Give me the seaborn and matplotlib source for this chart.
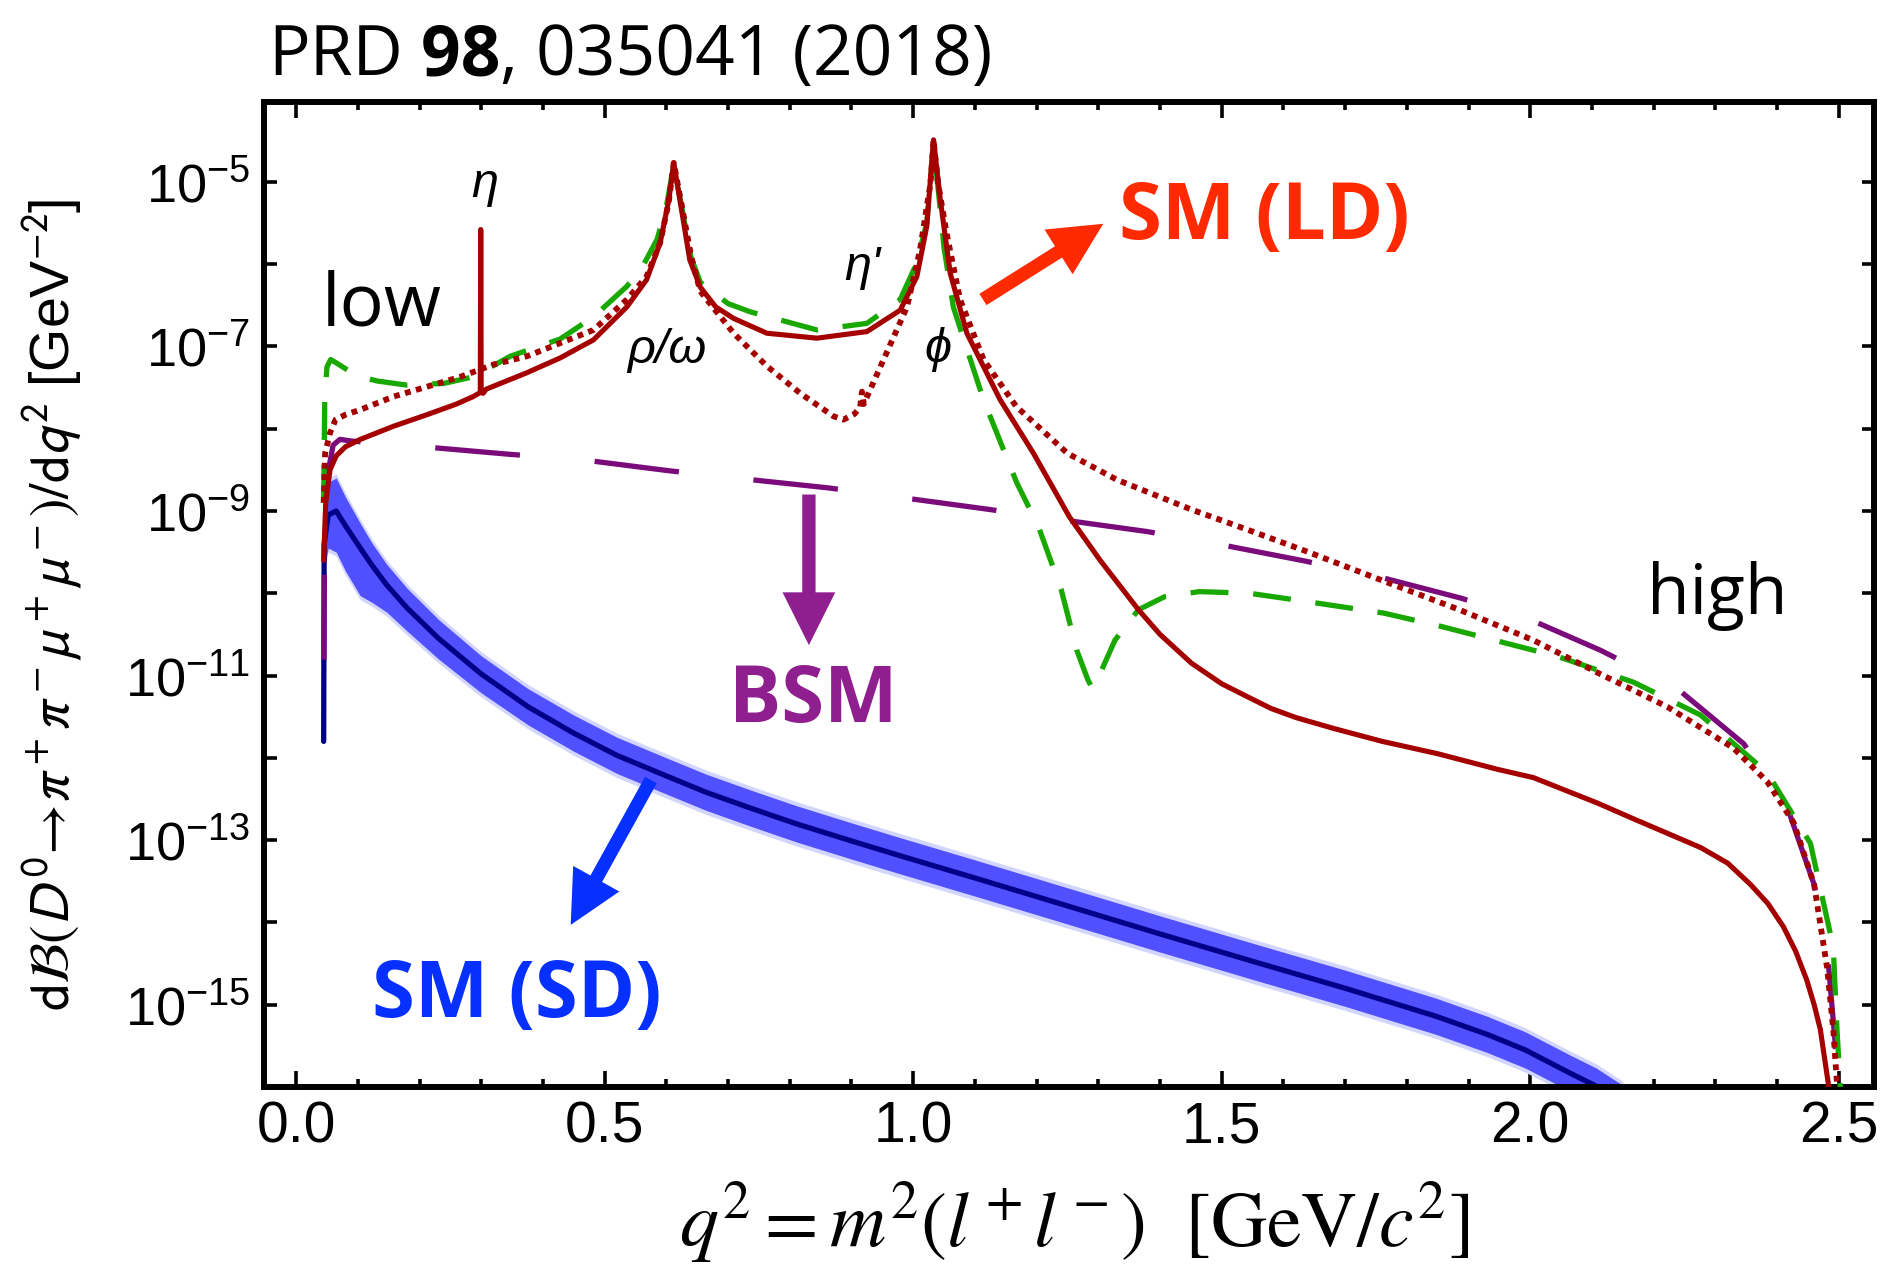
import numpy as np
import pandas as pd
import matplotlib
matplotlib.use("Agg")
import matplotlib.pyplot as plt
from matplotlib.ticker import FixedLocator, NullFormatter
import seaborn as sns

# q^2 in GeV^2; rates given as log10 of dB/dq^2 [GeV^-2]

# SM long-distance, solid
ld_solid_q2 = [0.0447, 0.048, 0.055, 0.065, 0.080, 0.104, 0.158, 0.212, 0.260, 0.287,
               0.2985, 0.2992, 0.2999, 0.303, 0.308, 0.374, 0.428, 0.482, 0.536, 0.568,
               0.590, 0.604, 0.612, 0.622, 0.638, 0.655, 0.680, 0.709, 0.763, 0.844,
               0.925, 0.979, 1.006, 1.022, 1.033, 1.044, 1.060, 1.087, 1.141, 1.195,
               1.253, 1.303, 1.365, 1.400, 1.451, 1.500, 1.545, 1.580, 1.620, 1.680,
               1.760, 1.850, 1.947, 2.005, 2.109, 2.167, 2.276, 2.320, 2.357, 2.385,
               2.410, 2.430, 2.448, 2.460, 2.470, 2.483, 2.490]
ld_solid_lg = [-9.6, -8.9, -8.5, -8.33, -8.22, -8.13, -7.97, -7.83, -7.70, -7.61,
               -7.56, -5.58, -7.56, -7.57, -7.52, -7.32, -7.14, -6.92, -6.52, -6.19,
               -5.74, -5.22, -4.77, -5.22, -5.95, -6.28, -6.52, -6.66, -6.84, -6.90,
               -6.82, -6.56, -6.15, -5.54, -4.49, -5.22, -6.11, -6.84, -7.65, -8.30,
               -9.07, -9.60, -10.20, -10.50, -10.85, -11.10, -11.27, -11.40, -11.51, -11.64,
               -11.80, -11.95, -12.14, -12.24, -12.55, -12.74, -13.09, -13.28, -13.54, -13.77,
               -14.05, -14.35, -14.70, -15.00, -15.30, -15.96, -16.5]

# SM long-distance, dotted
ld_dotted_q2 = [0.0447, 0.047, 0.055, 0.064, 0.080, 0.104, 0.158, 0.212, 0.266, 0.320,
                0.374, 0.428, 0.482, 0.536, 0.568, 0.590, 0.604, 0.612, 0.624, 0.640,
                0.655, 0.709, 0.763, 0.817, 0.871, 0.887, 0.905, 0.914, 0.917, 0.920,
                0.952, 0.990, 1.011, 1.028, 1.033, 1.040, 1.054, 1.076, 1.114, 1.167,
                1.250, 1.330, 1.450, 1.550, 1.637, 1.762, 1.885, 2.005, 2.113, 2.222,
                2.329, 2.384, 2.427, 2.460, 2.481, 2.491, 2.497, 2.502]
ld_dotted_lg = [-8.9, -8.30, -8.05, -7.89, -7.83, -7.77, -7.61, -7.49, -7.37, -7.22,
                -7.12, -6.96, -6.80, -6.43, -6.15, -5.74, -5.24, -4.77, -5.25, -5.90,
                -6.33, -6.84, -7.24, -7.57, -7.85, -7.89, -7.82, -7.74, -7.55, -7.70,
                -7.16, -6.52, -5.83, -5.02, -4.49, -5.00, -5.62, -6.43, -7.16, -7.73,
                -8.30, -8.62, -8.98, -9.25, -9.49, -9.85, -10.20, -10.57, -10.98, -11.38,
                -11.88, -12.29, -12.79, -13.54, -14.55, -15.30, -15.96, -16.5]

# SM long-distance, green dashed
ld_green_q2 = [0.0447, 0.0465, 0.050, 0.056, 0.065, 0.082, 0.100, 0.131, 0.179, 0.239,
               0.287, 0.347, 0.428, 0.482, 0.536, 0.560, 0.585, 0.600, 0.612, 0.624,
               0.640, 0.655, 0.700, 0.736, 0.844, 0.925, 0.979, 1.005, 1.022, 1.033,
               1.042, 1.050, 1.065, 1.087, 1.114, 1.168, 1.203, 1.240, 1.265, 1.283,
               1.290, 1.298, 1.308, 1.327, 1.365, 1.408, 1.464, 1.545, 1.637, 1.762,
               1.854, 1.947, 2.045, 2.167, 2.276, 2.384, 2.454, 2.491, 2.497, 2.502, 2.506]
ld_green_lg = [-8.9, -7.6, -7.25, -7.16, -7.20, -7.28, -7.36, -7.42, -7.47, -7.45,
               -7.37, -7.12, -6.91, -6.64, -6.27, -6.05, -5.70, -5.30, -4.80, -5.27,
               -5.92, -6.22, -6.48, -6.58, -6.80, -6.72, -6.43, -6.00, -5.50, -4.55,
               -5.20, -5.80, -6.52, -7.03, -7.65, -8.66, -9.19, -9.96, -10.69, -11.05,
               -11.15, -11.08, -10.89, -10.57, -10.20, -10.04, -9.98, -10.00, -10.10, -10.24,
               -10.40, -10.58, -10.77, -11.08, -11.48, -12.18, -13.04, -14.30, -15.30, -15.96, -16.5]

# BSM, long dashed
bsm_q2 = [0.0447, 0.046, 0.050, 0.060, 0.071, 0.090, 0.206, 0.344, 0.466, 0.603,
          0.725, 0.863, 0.984, 1.122, 1.244, 1.379, 1.499, 1.636, 1.755, 1.888,
          2.003, 2.113, 2.240, 2.346, 2.416, 2.460, 2.483, 2.494, 2.500]
bsm_lg = [-11.5, -9.5, -8.6, -8.2, -8.13, -8.15, -8.22, -8.31, -8.38, -8.51,
          -8.61, -8.72, -8.84, -8.98, -9.11, -9.25, -9.41, -9.61, -9.80, -10.06,
          -10.33, -10.69, -11.17, -11.83, -12.59, -13.54, -14.50, -15.46, -16.5]

# SM short-distance: central value and band (decades above / below)
sd_q2 = [0.0447, 0.0455, 0.052, 0.065, 0.080, 0.104, 0.123, 0.147, 0.180, 0.231,
         0.300, 0.376, 0.450, 0.520, 0.600, 0.665, 0.740, 0.810, 0.900, 0.979,
         1.100, 1.268, 1.400, 1.558, 1.700, 1.847, 1.930, 1.992, 2.064, 2.107, 2.150]
sd_lg = [-11.8, -9.4, -9.05, -9.00, -9.18, -9.45, -9.66, -9.90, -10.18, -10.55,
         -10.98, -11.38, -11.70, -11.97, -12.22, -12.42, -12.62, -12.80, -13.01, -13.19,
         -13.46, -13.84, -14.14, -14.49, -14.80, -15.14, -15.36, -15.55, -15.83, -15.99, -16.2]
sd_up = [0.0, 0.30, 0.40, 0.40, 0.35, 0.30, 0.27, 0.25, 0.24, 0.23,
         0.22, 0.22, 0.22, 0.22, 0.22, 0.22, 0.22, 0.22, 0.22, 0.22,
         0.22, 0.22, 0.22, 0.22, 0.22, 0.22, 0.22, 0.22, 0.22, 0.22, 0.22]
sd_dn = [0.0, 0.30, 0.40, 0.50, 0.55, 0.58, 0.45, 0.33, 0.28, 0.25,
         0.23, 0.22, 0.22, 0.22, 0.22, 0.22, 0.22, 0.22, 0.22, 0.22,
         0.22, 0.22, 0.22, 0.22, 0.22, 0.22, 0.22, 0.22, 0.22, 0.22, 0.22]

x_major = [0.0, 0.5, 1.0, 1.5, 2.0, 2.5]
x_major_labels = ["0.0", "0.5", "1.0", "1.5", "2.0", "2.5"]
y_major_exp = [-15, -13, -11, -9, -7, -5]
y_minor_exp = [-16, -14, -12, -10, -8, -6, -4]

sns.set_theme(style="ticks")
plt.rcParams["font.family"] = ["Liberation Sans", "DejaVu Sans"]
plt.rcParams["mathtext.fontset"] = "custom"
plt.rcParams["mathtext.rm"] = "Liberation Sans"
plt.rcParams["mathtext.it"] = "Liberation Sans:italic"
plt.rcParams["mathtext.bf"] = "Liberation Sans:bold"

W, H = 1880, 1269
fig = plt.figure(figsize=(W / 100, H / 100), dpi=100)
fig.patch.set_facecolor("white")
ax = fig.add_axes([264 / W, 1 - 1087 / H, (1874 - 264) / W, (1087 - 102) / H])
ax.set_facecolor("white")
ax.set_yscale("log")


def curve(q2, lg, **kw):
    df = pd.DataFrame({"q2": q2, "rate": np.power(10.0, np.asarray(lg, dtype=float))})
    sns.lineplot(data=df, x="q2", y="rate", ax=ax, estimator=None, sort=False,
                 legend=False, **kw)


def at(q2, lg):
    return q2, 10.0 ** lg


# short-distance band with a soft edge
c = np.asarray(sd_lg)
up = np.asarray(sd_up)
dn = np.asarray(sd_dn)
ax.fill_between(sd_q2, 10 ** (c - dn - 0.05), 10 ** (c + up + 0.05), color="#d2d5ff",
                lw=0, zorder=1)
ax.fill_between(sd_q2, 10 ** (c - dn), 10 ** (c + up), color="#5050ff", lw=0, zorder=1.5)
curve(sd_q2, sd_lg, color="#000088", linewidth=3.8, zorder=2)

curve(bsm_q2, bsm_lg, color="#7b0a7b", linewidth=3.8,
      linestyle=(19.5, (16.1, 14.2)), zorder=3)
curve(ld_green_q2, ld_green_lg, color="#19a800", linewidth=3.8,
      linestyle=(0, (7.2, 4.7)), zorder=4)
curve(ld_dotted_q2, ld_dotted_lg, color="#a50000", linewidth=4.2,
      linestyle=(0, (1.0, 0.95)), zorder=5)
curve(ld_solid_q2, ld_solid_lg, color="#a50000", linewidth=3.7, zorder=6)

ax.set_xlim(-0.052, 2.557)
ax.set_ylim(10 ** -16.0, 10 ** -4.03)

ax.set_xticks(x_major, labels=x_major_labels)
ax.xaxis.set_minor_locator(FixedLocator([k / 10 for k in range(1, 26) if k % 5]))
ax.set_yticks([10.0 ** e for e in y_major_exp],
              labels=[r"$\mathregular{10^{%d}}$" % e for e in y_major_exp])
ax.yaxis.set_minor_locator(FixedLocator([10.0 ** e for e in y_minor_exp]))
ax.yaxis.set_minor_formatter(NullFormatter())

ax.tick_params(axis="both", which="both", direction="in", top=True, right=True,
               width=2.6, color="black", labelcolor="black")
ax.tick_params(axis="x", which="major", length=11.5, labelsize=41, pad=10)
ax.tick_params(axis="x", which="minor", length=6)
ax.tick_params(axis="y", which="both", length=9)
ax.tick_params(axis="y", which="major", labelsize=39, pad=10)
for s in ax.spines.values():
    s.set_linewidth(4.3)
    s.set_color("black")

ax.set_xlabel(r"$q^2 = m^2(l^+l^-)\ \ [\mathrm{GeV}/c^2]$", fontsize=56,
              math_fontfamily="stix", va="baseline", color="black")
ax.xaxis.set_label_coords(0.503, -0.162)
ax.set_ylabel(r"$\mathrm{d}\mathcal{B}(D^0\!\rightarrow\!\pi^+\pi^-\mu^+\mu^-)/\mathrm{d}q^2$"
              r" [GeV$^{-2}$]", fontsize=40, math_fontfamily="stixsans", color="black")
ax.yaxis.set_label_coords(-0.112, 0.489)

# resonance labels
greek = dict(fontsize=35, fontstyle="italic", family=["Liberation Sans", "DejaVu Sans"],
             color="black", ha="center")
ax.text(*at(0.305, -5.18), "η", va="baseline", **greek)
ax.text(*at(0.601, -7.20), "ρ/ω", va="baseline", **greek)
ax.text(*at(0.917, -6.19), "η'", va="baseline", **greek)
ax.text(*at(1.040, -7.04), "ϕ", va="center", **greek)

ax.text(*at(0.0416, -6.74), "low", fontsize=53, family="Open Sans", va="baseline",
        ha="left", color="black")
ax.text(*at(2.189, -10.25), "high", fontsize=50, family="Open Sans", va="baseline",
        ha="left", color="black")

bold = dict(family="Open Sans", fontweight="bold", va="baseline", ha="left", fontsize=56)
ax.text(*at(1.333, -5.70), "SM (LD)", color="#ff2a00", **bold)
ax.text(*at(0.701, -11.56), "BSM", color="#8f1f8f", **bold)
ax.text(*at(0.1225, -15.15), "SM (SD)", color="#0530ff", **bold)


def arrow(tail, tip, color):
    ax.annotate("", xy=at(*tip), xytext=at(*tail),
                arrowprops=dict(arrowstyle="simple,head_length=0.95,head_width=0.95,"
                                           "tail_width=0.24",
                                mutation_scale=40, color=color, lw=0,
                                shrinkA=0, shrinkB=0), zorder=7)


arrow((1.113, -6.43), (1.308, -5.51), "#ff2a00")
arrow((0.831, -8.80), (0.831, -10.63), "#8f1f8f")
arrow((0.575, -12.27), (0.445, -14.03), "#0530ff")

# citation line above the frame
cite = dict(fontsize=50, family="Open Sans", color="black")
t1 = fig.text(268 / W, 1 - 75 / H, "PRD", va="baseline", **cite)
t2 = ax.annotate(" 98", xy=(1, 0), xycoords=t1, va="bottom", ha="left",
                 fontweight="bold", annotation_clip=False, **cite)
t3 = ax.annotate(", 035041 (2018)", xy=(1, 0), xycoords=t2, va="bottom", ha="left",
                 annotation_clip=False, **cite)

fig.savefig("out.png", dpi=100, facecolor="white")
